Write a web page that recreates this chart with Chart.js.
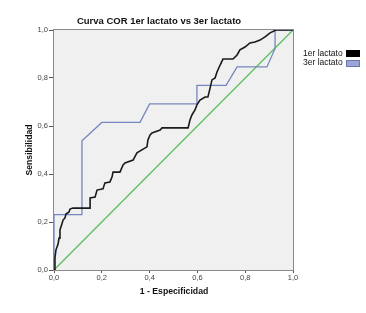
<!DOCTYPE html>
<html>
<head>
<meta charset="utf-8">
<script src="https://cdn.jsdelivr.net/npm/chart.js@4.4.1/dist/chart.umd.min.js"></script>
<style>
  body { margin: 0; background: #fff; }
  canvas { display: block; }
</style>
</head>
<body>
<canvas id="myChart" width="366" height="313"></canvas>
<script>
// curva 1er lactato (1 - especificidad, sensibilidad)
const lact1X = [0, 0.004, 0.008, 0.017, 0.021, 0.025, 0.033, 0.038, 0.046, 0.05, 0.063, 0.067, 0.079, 0.151, 0.151, 0.172, 0.18, 0.205, 0.213, 0.234, 0.243, 0.247, 0.276, 0.289, 0.297, 0.331, 0.347, 0.389, 0.393, 0.402, 0.41, 0.444, 0.452, 0.561, 0.569, 0.577, 0.59, 0.598, 0.611, 0.632, 0.644, 0.653, 0.661, 0.674, 0.682, 0.695, 0.707, 0.749, 0.766, 0.778, 0.799, 0.82, 0.841, 0.862, 0.883, 0.904, 0.929, 1];
const lact1Y = [0, 0.05, 0.083, 0.108, 0.133, 0.167, 0.192, 0.208, 0.217, 0.233, 0.242, 0.254, 0.258, 0.258, 0.3, 0.304, 0.333, 0.338, 0.363, 0.367, 0.388, 0.408, 0.408, 0.438, 0.446, 0.458, 0.488, 0.513, 0.542, 0.563, 0.571, 0.583, 0.592, 0.592, 0.625, 0.646, 0.667, 0.688, 0.708, 0.721, 0.721, 0.758, 0.792, 0.8, 0.825, 0.854, 0.879, 0.879, 0.896, 0.917, 0.929, 0.946, 0.95, 0.958, 0.971, 0.988, 1, 1];

// curva 3er lactato
const lact3X = [0, 0, 0.117, 0.117, 0.2, 0.36, 0.4, 0.598, 0.598, 0.72, 0.766, 0.891, 0.925, 0.925, 1];
const lact3Y = [0, 0.231, 0.231, 0.538, 0.615, 0.615, 0.692, 0.692, 0.769, 0.769, 0.846, 0.846, 0.923, 1, 1];

// linea de referencia
const refX = [0, 1];
const refY = [0, 1];

const tickVals = [0, 0.2, 0.4, 0.6, 0.8, 1.0];
const seriesNames = ["1er lactato", "3er lactato"];

const FONT = "'Liberation Sans', Arial, sans-serif";

function toPts(xs, ys) {
    return xs.map((x, i) => ({ x: x, y: ys[i] }));
}

const frame = {
    id: 'frame',
    beforeDatasetsDraw(chart) {
        const a = chart.chartArea;
        const ctx = chart.ctx;
        ctx.save();
        ctx.fillStyle = '#f0f0f0';
        ctx.fillRect(a.left, a.top, a.right - a.left, a.bottom - a.top);
        ctx.strokeStyle = '#8a8a8a';
        ctx.lineWidth = 1;
        ctx.strokeRect(a.left - 0.5, a.top - 0.5, a.right - a.left + 1, a.bottom - a.top + 1);
        ctx.restore();
    },
    afterDraw(chart) {
        const ctx = chart.ctx;
        ctx.save();
        ctx.fillStyle = '#111';
        ctx.textAlign = 'center';
        ctx.textBaseline = 'middle';
        ctx.font = 'bold 9.5px ' + FONT;
        ctx.fillText('Curva COR 1er lactato vs 3er lactato', 159, 21);
        ctx.font = 'bold 8.7px ' + FONT;
        ctx.fillText('1 - Especificidad', 174, 292);
        ctx.translate(30, 150);
        ctx.rotate(-Math.PI / 2);
        ctx.fillText('Sensibilidad', 0, 0);
        ctx.restore();

        // leyenda
        ctx.save();
        ctx.font = '8.5px ' + FONT;
        ctx.textAlign = 'left';
        ctx.textBaseline = 'middle';
        ctx.fillStyle = '#111';
        ctx.fillText(seriesNames[0], 303, 54);
        ctx.fillText(seriesNames[1], 303, 63);
        ctx.fillStyle = '#000';
        ctx.fillRect(346, 50, 14, 7);
        ctx.fillStyle = '#9aa6d6';
        ctx.fillRect(346, 60, 14, 7);
        ctx.strokeStyle = '#6a78b0';
        ctx.strokeRect(346.5, 60.5, 13, 6);
        ctx.restore();
    }
};

const data = {
    datasets: [{
        label: 'Referencia',
        data: toPts(refX, refY),
        borderColor: '#5dbf5d',
        borderWidth: 1.3,
        pointRadius: 0,
        showLine: true,
        order: 3
    }, {
        label: seriesNames[1],
        data: toPts(lact3X, lact3Y),
        borderColor: '#7686c0',
        borderWidth: 1.3,
        pointRadius: 0,
        showLine: true,
        order: 2
    }, {
        label: seriesNames[0],
        data: toPts(lact1X, lact1Y),
        borderColor: '#1a1a1a',
        borderWidth: 1.6,
        pointRadius: 0,
        showLine: true,
        order: 1
    }]
};

const tickFmt = v => v.toFixed(1).replace('.', ',');

const config = {
    type: 'scatter',
    data: data,
    options: {
        responsive: false,
        animation: false,
        layout: { padding: { left: 0, top: 30, right: 73, bottom: 0 } },
        plugins: {
            legend: { display: false },
            title: { display: false },
            tooltip: { enabled: false }
        },
        scales: {
            x: {
                type: 'linear',
                min: 0,
                max: 1,
                afterFit: s => { s.height = 43; },
                afterBuildTicks: s => { s.ticks = tickVals.map(v => ({ value: v })); },
                border: { display: false },
                grid: { drawOnChartArea: false, tickLength: 3, color: '#555' },
                ticks: { callback: tickFmt, padding: 0, color: '#444', maxRotation: 0, font: { family: FONT, size: 7.5 } }
            },
            y: {
                type: 'linear',
                min: 0,
                max: 1,
                afterFit: s => { s.width = 54; },
                afterBuildTicks: s => { s.ticks = tickVals.map(v => ({ value: v })); },
                border: { display: false },
                grid: { drawOnChartArea: false, tickLength: 5, color: '#555' },
                ticks: { callback: tickFmt, padding: 1, color: '#444', font: { family: FONT, size: 7.5 } }
            }
        }
    },
    plugins: [frame]
};

const myChart = new Chart(document.getElementById('myChart'), config);
</script>
</body>
</html>
